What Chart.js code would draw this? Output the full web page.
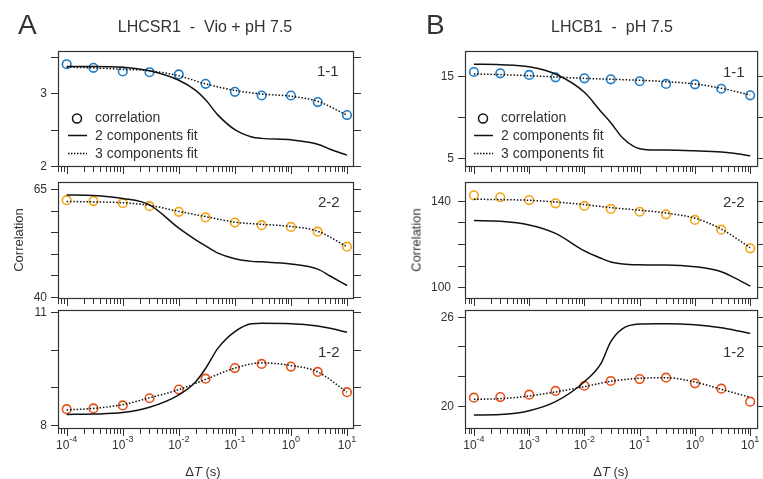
<!DOCTYPE html>
<html>
<head>
<meta charset="utf-8">
<title>Correlation vs delay</title>
<script src="https://cdn.jsdelivr.net/npm/chart.js@4.4.1/dist/chart.umd.min.js"></script>
<style>
  html, body { margin: 0; padding: 0; background: #fff; }
  #wrap {
    position: relative; width: 763px; height: 479px; overflow: hidden;
    font-family: "Liberation Sans", Arial, sans-serif; color: #333;
  }
  #wrap canvas { position: absolute; left: 0; top: 0; }
  .txt { position: absolute; white-space: pre; line-height: 1; }
  .ctr { transform: translateX(-50%); }
  .rot { transform: translate(-50%, -50%) rotate(-90deg); }
</style>
</head>
<body>
<div id="wrap">
  <canvas id="c0" width="763" height="479"></canvas>
  <canvas id="c1" width="763" height="479"></canvas>
  <canvas id="c2" width="763" height="479"></canvas>
  <canvas id="c3" width="763" height="479"></canvas>
  <canvas id="c4" width="763" height="479"></canvas>
  <canvas id="c5" width="763" height="479"></canvas>

  <div class="txt" style="left:18px; top:11px; font-size:28px;">A</div>
  <div class="txt" style="left:426px; top:11px; font-size:28px;">B</div>
  <div class="txt ctr" style="left:205px; top:19px; font-size:16px;">LHCSR1  -  Vio + pH 7.5</div>
  <div class="txt ctr" style="left:612px; top:19px; font-size:16px;">LHCB1  -  pH 7.5</div>

  <div class="txt" style="left:317px; top:63px; font-size:15px;">1-1</div>
  <div class="txt" style="left:318px; top:194px; font-size:15px;">2-2</div>
  <div class="txt" style="left:318px; top:344px; font-size:15px;">1-2</div>
  <div class="txt" style="left:723px; top:64px; font-size:15px;">1-1</div>
  <div class="txt" style="left:723px; top:194px; font-size:15px;">2-2</div>
  <div class="txt" style="left:723px; top:344px; font-size:15px;">1-2</div>

  <div class="txt" style="left:95px; top:110px; font-size:14px;">correlation</div>
  <div class="txt" style="left:95px; top:128px; font-size:14px;">2 components fit</div>
  <div class="txt" style="left:95px; top:146px; font-size:14px;">3 components fit</div>
  <div class="txt" style="left:501px; top:110px; font-size:14px;">correlation</div>
  <div class="txt" style="left:501px; top:128px; font-size:14px;">2 components fit</div>
  <div class="txt" style="left:501px; top:146px; font-size:14px;">3 components fit</div>

  <div class="txt rot" style="left:18px; top:240px; font-size:13px;">Correlation</div>
  <div class="txt rot" style="left:416px; top:240px; font-size:13px;">Correlation</div>
  <div class="txt ctr" style="left:203px; top:465px; font-size:13px;">Δ<i>T</i> (s)</div>
  <div class="txt ctr" style="left:611px; top:465px; font-size:13px;">Δ<i>T</i> (s)</div>
</div>

<script>
// delay times of the measured points and of the sampled fit curves (s)
const dT = [1e-4, 3e-4, 1e-3, 3e-3, 1e-2, 3e-2, 1e-1, 3e-1, 1, 3, 10];
const fitT = [1e-4, 3e-4, 1e-3, 3e-3, 1e-2, 2e-2, 3e-2, 5e-2, 1e-1, 2e-1, 3e-1, 1, 3, 5, 10];
const xExponents = [-4, -3, -2, -1, 0, 1];

// LHCSR1 - Vio + pH 7.5
const csr11Corr = [3.40, 3.35, 3.30, 3.29, 3.26, 3.13, 3.02, 2.97, 2.97, 2.88, 2.70];
const csr11Fit3 = [3.36, 3.35, 3.33, 3.31, 3.24, 3.13, 3.04, 2.99, 2.96, 2.89, 2.70];
const csr11Fit2 = [3.37, 3.37, 3.36, 3.31, 3.18, 3.04, 2.91, 2.70, 2.50, 2.40, 2.38, 2.36, 2.30, 2.23, 2.15];
const csr22Corr = [62.4, 62.2, 61.7, 61.0, 59.7, 58.4, 57.2, 56.6, 56.2, 55.1, 51.6];
const csr22Fit3 = [62.1, 62.0, 61.8, 61.2, 59.8, 58.6, 57.3, 56.8, 56.3, 55.2, 51.6];
const csr22Fit2 = [63.6, 63.5, 62.8, 61.3, 55.9, 53.2, 51.8, 50.1, 48.8, 48.2, 48.1, 47.6, 46.4, 44.8, 42.6];
const csr12Corr = [8.42, 8.44, 8.52, 8.71, 8.94, 9.23, 9.51, 9.62, 9.55, 9.41, 8.87];
const csr12Fit3 = [8.40, 8.44, 8.54, 8.72, 8.94, 9.21, 9.51, 9.65, 9.58, 9.41, 8.87];
const csr12Fit2 = [8.28, 8.29, 8.33, 8.47, 8.80, 9.15, 9.50, 10.04, 10.48, 10.69, 10.70, 10.69, 10.63, 10.57, 10.46];

// LHCB1 - pH 7.5
const cb11Corr = [15.45, 15.29, 15.09, 14.80, 14.68, 14.56, 14.32, 13.99, 13.95, 13.41, 12.61];
const cb11Fit3 = [15.21, 15.13, 15.00, 14.84, 14.68, 14.56, 14.44, 14.27, 13.99, 13.46, 12.65];
const cb11Fit2 = [16.39, 16.34, 16.10, 15.21, 12.98, 10.61, 9.27, 7.37, 6.10, 5.94, 5.94, 5.85, 5.70, 5.54, 5.24];
const cb22Corr = [142.5, 141.6, 140.3, 138.8, 137.6, 136.2, 134.9, 133.7, 131.1, 126.6, 118.0];
const cb22Fit3 = [140.7, 140.5, 140.2, 139.4, 138.2, 136.8, 135.6, 134.3, 131.9, 126.9, 118.3];
const cb22Fit2 = [130.8, 130.5, 128.8, 124.9, 116.8, 113.4, 111.7, 110.8, 110.4, 110.3, 110.3, 109.5, 107.2, 104.6, 100.6];
const cb12Corr = [20.56, 20.60, 20.76, 21.01, 21.36, 21.68, 21.81, 21.90, 21.52, 21.16, 20.29];
const cb12Fit3 = [20.45, 20.49, 20.67, 20.94, 21.30, 21.66, 21.86, 21.90, 21.61, 21.12, 20.58];
const cb12Fit2 = [19.39, 19.42, 19.68, 20.29, 21.63, 22.87, 24.32, 25.22, 25.51, 25.53, 25.53, 25.46, 25.26, 25.11, 24.88];

const BLUE = '#1f7cc6', YELLOW = '#f2a516', RED = '#e4521c', INK = '#333';
const FONT = '"Liberation Sans", Arial, sans-serif';

const panels = [
  { id: 'c0', box: [58, 51, 353, 166], x: [-4.142, 1.107], y: [2, 3.582],
    corr: csr11Corr, fit2: csr11Fit2, fit3: csr11Fit3, color: BLUE,
    yTicks: [2, 2.5, 3, 3.5], yLabels: [2, 3], labelRight: 47, legend: 68 },
  { id: 'c1', box: [58, 182, 353, 298], x: [-4.142, 1.107], y: [39.7, 66.62],
    corr: csr22Corr, fit2: csr22Fit2, fit3: csr22Fit3, color: YELLOW,
    yTicks: [40, 45, 50, 55, 60, 65], yLabels: [40, 65], labelRight: 47 },
  { id: 'c2', box: [58, 310, 353, 428], x: [-4.142, 1.107], y: [7.92, 11.053],
    corr: csr12Corr, fit2: csr12Fit2, fit3: csr12Fit3, color: RED,
    yTicks: [8, 9, 10, 11], yLabels: [8, 11], labelRight: 47, xLabels: true },
  { id: 'c3', box: [465, 51, 761, 166], x: [-4.161, 1.125], y: [3.99, 18.01],
    corr: cb11Corr, fit2: cb11Fit2, fit3: cb11Fit3, color: BLUE,
    yTicks: [5, 10, 15], yLabels: [5, 15], labelRight: 454, legend: 474 },
  { id: 'c4', box: [465, 182, 761, 298], x: [-4.161, 1.125], y: [95.06, 148.64],
    corr: cb22Corr, fit2: cb22Fit2, fit3: cb22Fit3, color: YELLOW,
    yTicks: [100, 110, 120, 130, 140], yLabels: [100, 140], labelRight: 451 },
  { id: 'c5', box: [465, 310, 761, 428], x: [-4.161, 1.125], y: [18.52, 26.45],
    corr: cb12Corr, fit2: cb12Fit2, fit3: cb12Fit3, color: RED,
    yTicks: [20, 22, 24, 26], yLabels: [20, 26], labelRight: 454, xLabels: true },
];

// box, outside ticks, tick labels and the in-plot legend
const framePlugin = {
  id: 'frame',
  afterDatasetsDraw(chart, args, p) {
    const ctx = chart.ctx, a = chart.chartArea;
    const xs = chart.scales.x, ys = chart.scales.y;
    ctx.save();
    ctx.strokeStyle = INK;
    ctx.lineWidth = 1.2;
    ctx.strokeRect(a.left + 0.5, a.top + 0.5, a.right - a.left, a.bottom - a.top);

    ctx.lineWidth = 1;
    p.yTicks.forEach(v => {
      const y = Math.round(ys.getPixelForValue(v)) + 0.5;
      ctx.beginPath();
      ctx.moveTo(a.left - 7, y); ctx.lineTo(a.left, y);
      ctx.moveTo(a.right + 1, y); ctx.lineTo(a.right + 8, y);
      ctx.stroke();
    });
    for (let e = -5; e <= 1; e++) {
      for (let m = 1; m <= 9; m++) {
        const v = m * Math.pow(10, e);
        if (v < xs.min || v > xs.max) continue;
        const x = Math.round(xs.getPixelForValue(v)) + 0.5;
        ctx.beginPath();
        ctx.moveTo(x, a.bottom + 1);
        ctx.lineTo(x, a.bottom + (m === 1 ? 8 : 6));
        ctx.stroke();
      }
    }

    ctx.fillStyle = INK;
    ctx.font = '12px ' + FONT;
    ctx.textAlign = 'right';
    ctx.textBaseline = 'middle';
    p.yLabels.forEach(v => ctx.fillText(String(v), p.labelRight, ys.getPixelForValue(v) + 0.5));

    if (p.xLabels) {
      ctx.textAlign = 'left';
      ctx.textBaseline = 'alphabetic';
      xExponents.forEach(e => {
        const x = xs.getPixelForValue(Math.pow(10, e));
        ctx.font = '12px ' + FONT;
        const wb = ctx.measureText('10').width;
        ctx.font = '9px ' + FONT;
        const we = ctx.measureText(String(e)).width;
        const x0 = x - (wb + we) / 2;
        ctx.font = '12px ' + FONT;
        ctx.fillText('10', x0, a.bottom + 21);
        ctx.font = '9px ' + FONT;
        ctx.fillText(String(e), x0 + wb, a.bottom + 14);
      });
    }

    if (p.legend) {
      const lx = p.legend;
      ctx.strokeStyle = '#111';
      ctx.lineWidth = 1.5;
      ctx.beginPath();
      ctx.arc(lx + 9, 118.5, 4.5, 0, Math.PI * 2);
      ctx.stroke();
      ctx.beginPath();
      ctx.moveTo(lx, 135.5); ctx.lineTo(lx + 19, 135.5);
      ctx.stroke();
      ctx.setLineDash([1.5, 1.5]);
      ctx.beginPath();
      ctx.moveTo(lx, 153.5); ctx.lineTo(lx + 19, 153.5);
      ctx.stroke();
    }
    ctx.restore();
  }
};

panels.forEach(p => {
  const [L, T, R, B] = p.box;
  new Chart(document.getElementById(p.id), {
    type: 'scatter',
    data: {
      datasets: [
        {
          label: '2 components fit',
          data: fitT.map((t, i) => ({ x: t, y: p.fit2[i] })),
          showLine: true, borderColor: '#111', borderWidth: 1.5,
          pointRadius: 0, cubicInterpolationMode: 'monotone',
        },
        {
          label: '3 components fit',
          data: dT.map((t, i) => ({ x: t, y: p.fit3[i] })),
          showLine: true, borderColor: '#111', borderWidth: 1.5, borderDash: [1.5, 1.8],
          pointRadius: 0, cubicInterpolationMode: 'monotone',
        },
        {
          label: 'correlation',
          data: dT.map((t, i) => ({ x: t, y: p.corr[i] })),
          showLine: false, pointRadius: 4.3, pointBorderWidth: 1.6,
          borderColor: p.color, backgroundColor: 'rgba(0,0,0,0)',
        },
      ],
    },
    options: {
      responsive: false,
      animation: false,
      devicePixelRatio: 1,
      events: [],
      layout: { padding: { left: L, top: T, right: 763 - R, bottom: 479 - B } },
      scales: {
        x: { type: 'logarithmic', display: false, min: Math.pow(10, p.x[0]), max: Math.pow(10, p.x[1]) },
        y: { type: 'linear', display: false, min: p.y[0], max: p.y[1] },
      },
      plugins: { legend: { display: false }, tooltip: { enabled: false }, frame: p },
    },
    plugins: [framePlugin],
  });
});
</script>
</body>
</html>
